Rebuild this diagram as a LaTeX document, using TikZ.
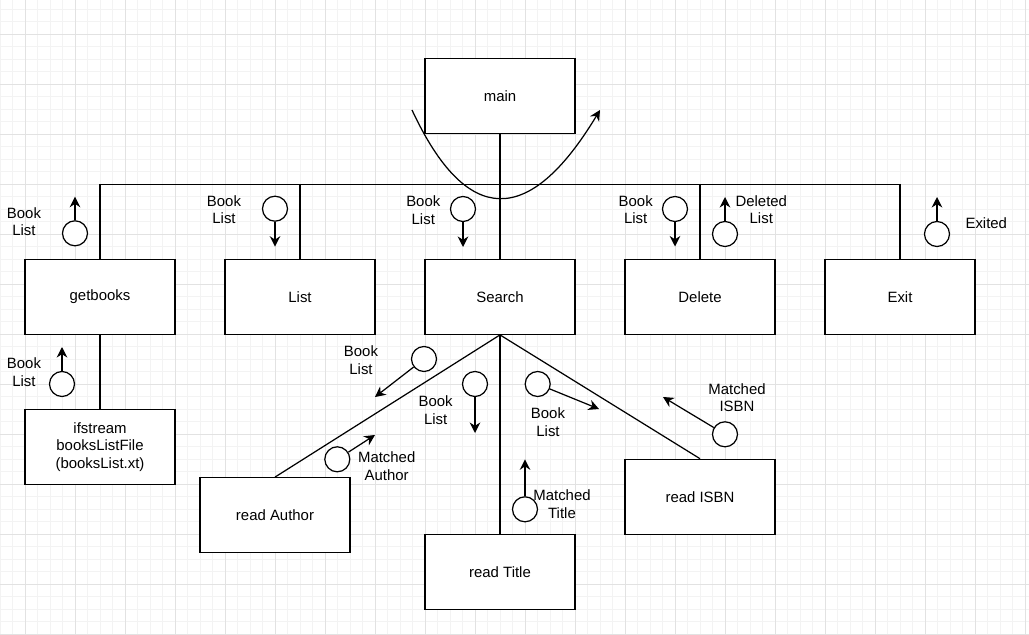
\documentclass[tikz,border=0pt]{standalone}
\usepackage{fontspec}
\setmainfont{Liberation Sans}
\usetikzlibrary{arrows.meta}
\definecolor{gridminor}{HTML}{F3F3F3}
\definecolor{gridmajor}{HTML}{E2E2E2}

\begin{document}
\begin{tikzpicture}[x=0.02cm, y=-0.02cm, line width=0.7pt, >={Stealth[length=6pt,width=6pt]},
    every node/.style={font=\fontsize{8.5}{10}\selectfont},
    module/.style={draw, fill=white, minimum width=3cm, minimum height=1.5cm, align=center},
    couple/.style={draw, fill=white, circle, minimum size=0.5cm, inner sep=0pt},
    flow/.style={align=center, inner sep=1pt}]
    \useasboundingbox (0,0) rectangle (1029,635);
    % Grid
    \fill[white] (0,0) rectangle (1029,635);
    \foreach \x in {0,12.5,...,1029} \draw[gridminor, line width=0.5pt] (\x,0) -- (\x,635);
    \foreach \y in {9.3,21.8,...,635} \draw[gridminor, line width=0.5pt] (0,\y) -- (1029,\y);
    \foreach \x in {25,75,...,1025} \draw[gridmajor, line width=0.5pt] (\x,0) -- (\x,635);
    \foreach \y in {34.3,84.3,...,635} \draw[gridmajor, line width=0.5pt] (0,\y) -- (1029,\y);
    % Modules
    \node[module] (main) at (500,96.3) {main};
    \node[module] (getbooks) at (100,296.8) {getbooks};
    \node[module] (list) at (300,296.8) {List};
    \node[module] (search) at (500,296.8) {Search};
    \node[module] (delete) at (700,296.8) {Delete};
    \node[module] (exit) at (900,296.8) {Exit};
    \node[module] (ifstream) at (100,446.8) {ifstream\\booksListFile\\(booksList.xt)};
    \node[module] (author) at (275,515.2) {read Author};
    \node[module] (title) at (500,571.8) {read Title};
    \node[module] (isbn) at (700,496.8) {read ISBN};
    % Calls
    \coordinate (bus) at (500,184.3);
    \draw (main) -- (search);
    \foreach \m in {getbooks,list,delete,exit} \draw (\m.north) |- (bus);
    \draw (getbooks) -- (ifstream);
    \foreach \m in {author,title,isbn} \draw (search.south) -- (\m.north);
    % Loop
    \coordinate (loopin) at (412,110);
    \coordinate (loopout) at (600,110);
    \draw[->] (loopin) .. controls (466.7,227.3) and (529.3,227.3) .. (loopout);
    % Couples on the top row
    \node[couple] (gbbook) at (75,233.3) {};
    \coordinate (gbbooktip) at (75,196.7);
    \draw[->] (gbbook) -- (gbbooktip);
    \node[flow] (gbbooklbl) at (24,221.7) {Book\\List};
    \node[couple] (lsbook) at (275,208.7) {};
    \coordinate (lsbooktip) at (275,246.7);
    \draw[->] (lsbook) -- (lsbooktip);
    \node[flow] (lsbooklbl) at (224,209.7) {Book\\List};
    \node[couple] (srbook) at (463,209) {};
    \coordinate (srbooktip) at (463,247);
    \draw[->] (srbook) -- (srbooktip);
    \node[flow] (srbooklbl) at (423.3,210) {Book\\List};
    \node[couple] (dlbook) at (675,209) {};
    \coordinate (dlbooktip) at (675,246.5);
    \draw[->] (dlbook) -- (dlbooktip);
    \node[flow] (dlbooklbl) at (635.7,209.8) {Book\\List};
    \node[couple] (dldel) at (725,234) {};
    \coordinate (dldeltip) at (725,197);
    \draw[->] (dldel) -- (dldeltip);
    \node[flow] (dldellbl) at (761.3,209.8) {Deleted\\List};
    \node[couple] (exexit) at (937,234) {};
    \coordinate (exexittip) at (937,197);
    \draw[->] (exexit) -- (exexittip);
    \node[flow] (exexitlbl) at (986.3,222.7) {Exited};
    % Couples below
    \node[couple] (ifbook) at (62,384) {};
    \coordinate (ifbooktip) at (62,347);
    \draw[->] (ifbook) -- (ifbooktip);
    \node[flow] (ifbooklbl) at (24,372) {Book\\List};
    \node[couple] (aubook) at (424,359) {};
    \coordinate (aubooktip) at (375,397);
    \draw[->] (aubook) -- (aubooktip);
    \node[flow] (aubooklbl) at (361,360) {Book\\List};
    \node[couple] (aumatch) at (337.3,459.3) {};
    \coordinate (aumatchtip) at (375,435);
    \draw[->] (aumatch) -- (aumatchtip);
    \node[flow] (aumatchlbl) at (386.7,466) {Matched\\Author};
    \node[couple] (tibook) at (475,384) {};
    \coordinate (tibooktip) at (475,433);
    \draw[->] (tibook) -- (tibooktip);
    \node[flow] (tibooklbl) at (435.7,410) {Book\\List};
    \node[couple] (timatch) at (525,509.3) {};
    \coordinate (timatchtip) at (525,459.3);
    \draw[->] (timatch) -- (timatchtip);
    \node[flow] (timatchlbl) at (562,504) {Matched\\Title};
    \node[couple] (isbook) at (537.7,384) {};
    \coordinate (isbooktip) at (599,409);
    \draw[->] (isbook) -- (isbooktip);
    \node[flow] (isbooklbl) at (548,422.3) {Book\\List};
    \node[couple] (ismatch) at (725,434.3) {};
    \coordinate (ismatchtip) at (663,397);
    \draw[->] (ismatch) -- (ismatchtip);
    \node[flow] (ismatchlbl) at (737,397.7) {Matched\\ISBN};
\end{tikzpicture}
\end{document}
